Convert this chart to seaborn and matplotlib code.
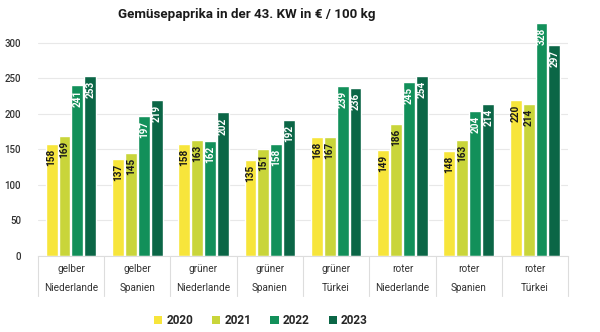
import matplotlib
matplotlib.use("Agg")
import matplotlib.pyplot as plt
import matplotlib.transforms as mtransforms
from matplotlib.patches import Patch
import pandas as pd
import seaborn as sns

# Paprika prices per variety and origin, calendar week 43
sorten = ["gelber", "gelber", "grüner", "grüner", "grüner", "roter", "roter", "roter"]
herkunft = ["Niederlande", "Spanien", "Niederlande", "Spanien", "Türkei",
            "Niederlande", "Spanien", "Türkei"]
jahre = ["2020", "2021", "2022", "2023"]
werte_2020 = [158, 137, 158, 135, 168, 149, 148, 220]
werte_2021 = [169, 145, 163, 151, 167, 186, 163, 214]
werte_2022 = [241, 197, 162, 158, 239, 245, 204, 328]
werte_2023 = [253, 219, 202, 192, 236, 254, 214, 297]
y_ticks = [0, 50, 100, 150, 200, 250, 300]

farben = ["#f7e53b", "#c9d53a", "#12905a", "#0b6646"]
textfarben = ["#1a1a1a", "#1a1a1a", "white", "white"]

kategorien = [f"{s}\n{h}" for s, h in zip(sorten, herkunft)]
reihen = [werte_2020, werte_2021, werte_2022, werte_2023]
df = pd.DataFrame({
    "kategorie": [k for _ in jahre for k in kategorien],
    "jahr": [j for j in jahre for _ in kategorien],
    "wert": [v for r in reihen for v in r],
})

sns.set_theme(style="white")
plt.rcParams["font.family"] = ["Roboto", "DejaVu Sans"]

fig = plt.figure(figsize=(6.0, 3.32), dpi=100)
ax = fig.add_axes([0.063, 0.229, 0.884, 0.706])

sns.barplot(data=df, x="kategorie", y="wert", hue="jahr", order=kategorien,
            hue_order=jahre, palette=farben, width=0.78, gap=0.08,
            saturation=1, legend=False, ax=ax)

ax.set_ylim(0, 330)
ax.set_xlim(-0.5, len(kategorien) - 0.5)
ax.set_yticks(y_ticks)
ax.set_yticklabels([str(t) for t in y_ticks], fontsize=7, color="#333333",
                   fontweight="medium")
ax.tick_params(axis="y", length=0, pad=12)
ax.tick_params(axis="x", length=0, pad=6)
ax.set_xticks(range(len(kategorien)))
ax.set_xticklabels(kategorien, fontsize=7.2, color="#333333", linespacing=2.1)
ax.set_xlabel("")
ax.set_ylabel("")
ax.grid(axis="y", color="#e8e8e8", linewidth=0.8)
ax.set_axisbelow(True)
for side in ["top", "right", "left"]:
    ax.spines[side].set_visible(False)
ax.spines["bottom"].set_color("#dddddd")
ax.spines["bottom"].set_linewidth(0.8)

# vertical separators between the category cells below the axis
trans = mtransforms.blended_transform_factory(ax.transData, ax.transAxes)
for xb in [i - 0.5 for i in range(len(kategorien) + 1)]:
    ax.plot([xb, xb], [0, -0.17], transform=trans, color="#dddddd",
            linewidth=0.8, clip_on=False)

# value labels inside the top of each bar
for cont, tf, reihe in zip(ax.containers, textfarben, reihen):
    for patch, val in zip(cont.patches, reihe):
        xc = patch.get_x() + patch.get_width() / 2
        ax.annotate(str(val), (xc, val), xytext=(0, -3.5),
                    textcoords="offset points", rotation=90, ha="center",
                    va="top", fontsize=7.2, fontweight="bold", color=tf)

fig.text(0.412, 0.955, "Gemüsepaprika in der 43. KW in € / 100 kg",
         ha="center", va="center", fontsize=9.6, fontweight="bold",
         color="#1a1a1a")

handles = [Patch(facecolor=c, edgecolor="none", label=j)
           for c, j in zip(farben, jahre)]
fig.legend(handles=handles, loc="center", bbox_to_anchor=(0.435, 0.035),
           ncol=4, frameon=False, handlelength=0.7, handleheight=0.7,
           handletextpad=0.35, columnspacing=1.6,
           prop={"size": 8.5, "weight": "bold"})

fig.savefig("out.png", dpi=100)
